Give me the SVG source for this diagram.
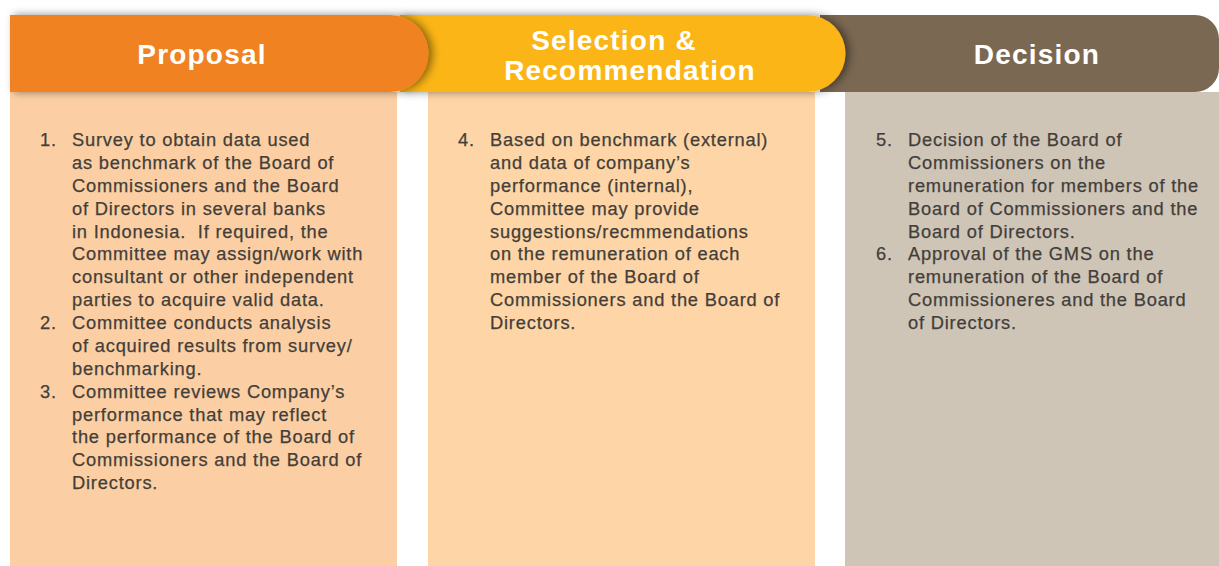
<svg xmlns="http://www.w3.org/2000/svg" width="1219" height="566" viewBox="0 0 1219 566">
<style>
.hd{font-family:"Liberation Sans",Arial,sans-serif;font-weight:bold;font-size:28px;letter-spacing:1.2px;fill:#ffffff;text-anchor:middle}
.bd{font-family:"Liberation Sans",Arial,sans-serif;font-size:18.3px;letter-spacing:0.8px;fill:#433e3a;stroke:#433e3a;stroke-width:0.25}
</style>
<defs>
<filter id="sh" x="-10%" y="-20%" width="130%" height="140%">
<feDropShadow dx="4" dy="0" stdDeviation="4" flood-color="#000" flood-opacity="0.45"/>
</filter>
</defs>
<rect width="1219" height="566" fill="#ffffff"/>
<g id="decision">
<rect x="845" y="92" width="374" height="474" fill="#cfc5b7"/>
<path d="M820 15 H1195 A24 24 0 0 1 1219 39 V68 A24 24 0 0 1 1195 92 H820 Z" fill="#7b6852"/>
<text class="hd" x="1037" y="64">Decision</text>
<text class="bd" x="876" y="146">5.</text>
<text class="bd" x="908" y="146">Decision of the Board of</text>
<text class="bd" x="908" y="169">Commissioners on the</text>
<text class="bd" x="908" y="192">remuneration for members of the</text>
<text class="bd" x="908" y="215">Board of Commissioners and the</text>
<text class="bd" x="908" y="238">Board of Directors.</text>
<text class="bd" x="876" y="260">6.</text>
<text class="bd" x="908" y="260">Approval of the GMS on the</text>
<text class="bd" x="908" y="283">remuneration of the Board of</text>
<text class="bd" x="908" y="306">Commissioneres and the Board</text>
<text class="bd" x="908" y="329">of Directors.</text>
</g>
<g id="selection">
<rect x="428" y="92" width="387" height="474" fill="#fdd5a6"/>
<path d="M400 15 H807 A38.5 38.5 0 0 1 807 92 H400 Z" fill="#fbb517" filter="url(#sh)"/>
<text class="hd" x="614" y="50">Selection &amp;</text>
<text class="hd" x="630" y="80">Recommendation</text>
<text class="bd" x="458" y="146">4.</text>
<text class="bd" x="490" y="146">Based on benchmark (external)</text>
<text class="bd" x="490" y="169">and data of company’s</text>
<text class="bd" x="490" y="192">performance (internal),</text>
<text class="bd" x="490" y="215">Committee may provide</text>
<text class="bd" x="490" y="238">suggestions/recmmendations</text>
<text class="bd" x="490" y="260">on the remuneration of each</text>
<text class="bd" x="490" y="283">member of the Board of</text>
<text class="bd" x="490" y="306">Commissioners and the Board of</text>
<text class="bd" x="490" y="329">Directors.</text>
</g>
<g id="proposal">
<rect x="10" y="92" width="387" height="474" fill="#fbcfa3"/>
<path d="M10 15 H390 A38.5 38.5 0 0 1 390 92 H10 Z" fill="#f08222" filter="url(#sh)"/>
<text class="hd" x="202" y="64">Proposal</text>
<text class="bd" x="40" y="146">1.</text>
<text class="bd" x="72" y="146">Survey to obtain data used</text>
<text class="bd" x="72" y="169">as benchmark of the Board of</text>
<text class="bd" x="72" y="192">Commissioners and the Board</text>
<text class="bd" x="72" y="215">of Directors in several banks</text>
<text class="bd" x="72" y="238">in Indonesia.&#160; If required, the</text>
<text class="bd" x="72" y="260">Committee may assign/work with</text>
<text class="bd" x="72" y="283">consultant or other independent</text>
<text class="bd" x="72" y="306">parties to acquire valid data.</text>
<text class="bd" x="40" y="329">2.</text>
<text class="bd" x="72" y="329">Committee conducts analysis</text>
<text class="bd" x="72" y="352">of acquired results from survey/</text>
<text class="bd" x="72" y="375">benchmarking.</text>
<text class="bd" x="40" y="398">3.</text>
<text class="bd" x="72" y="398">Committee reviews Company’s</text>
<text class="bd" x="72" y="421">performance that may reflect</text>
<text class="bd" x="72" y="443">the performance of the Board of</text>
<text class="bd" x="72" y="466">Commissioners and the Board of</text>
<text class="bd" x="72" y="489">Directors.</text>
</g>
<g id="connectors"/>
</svg>
